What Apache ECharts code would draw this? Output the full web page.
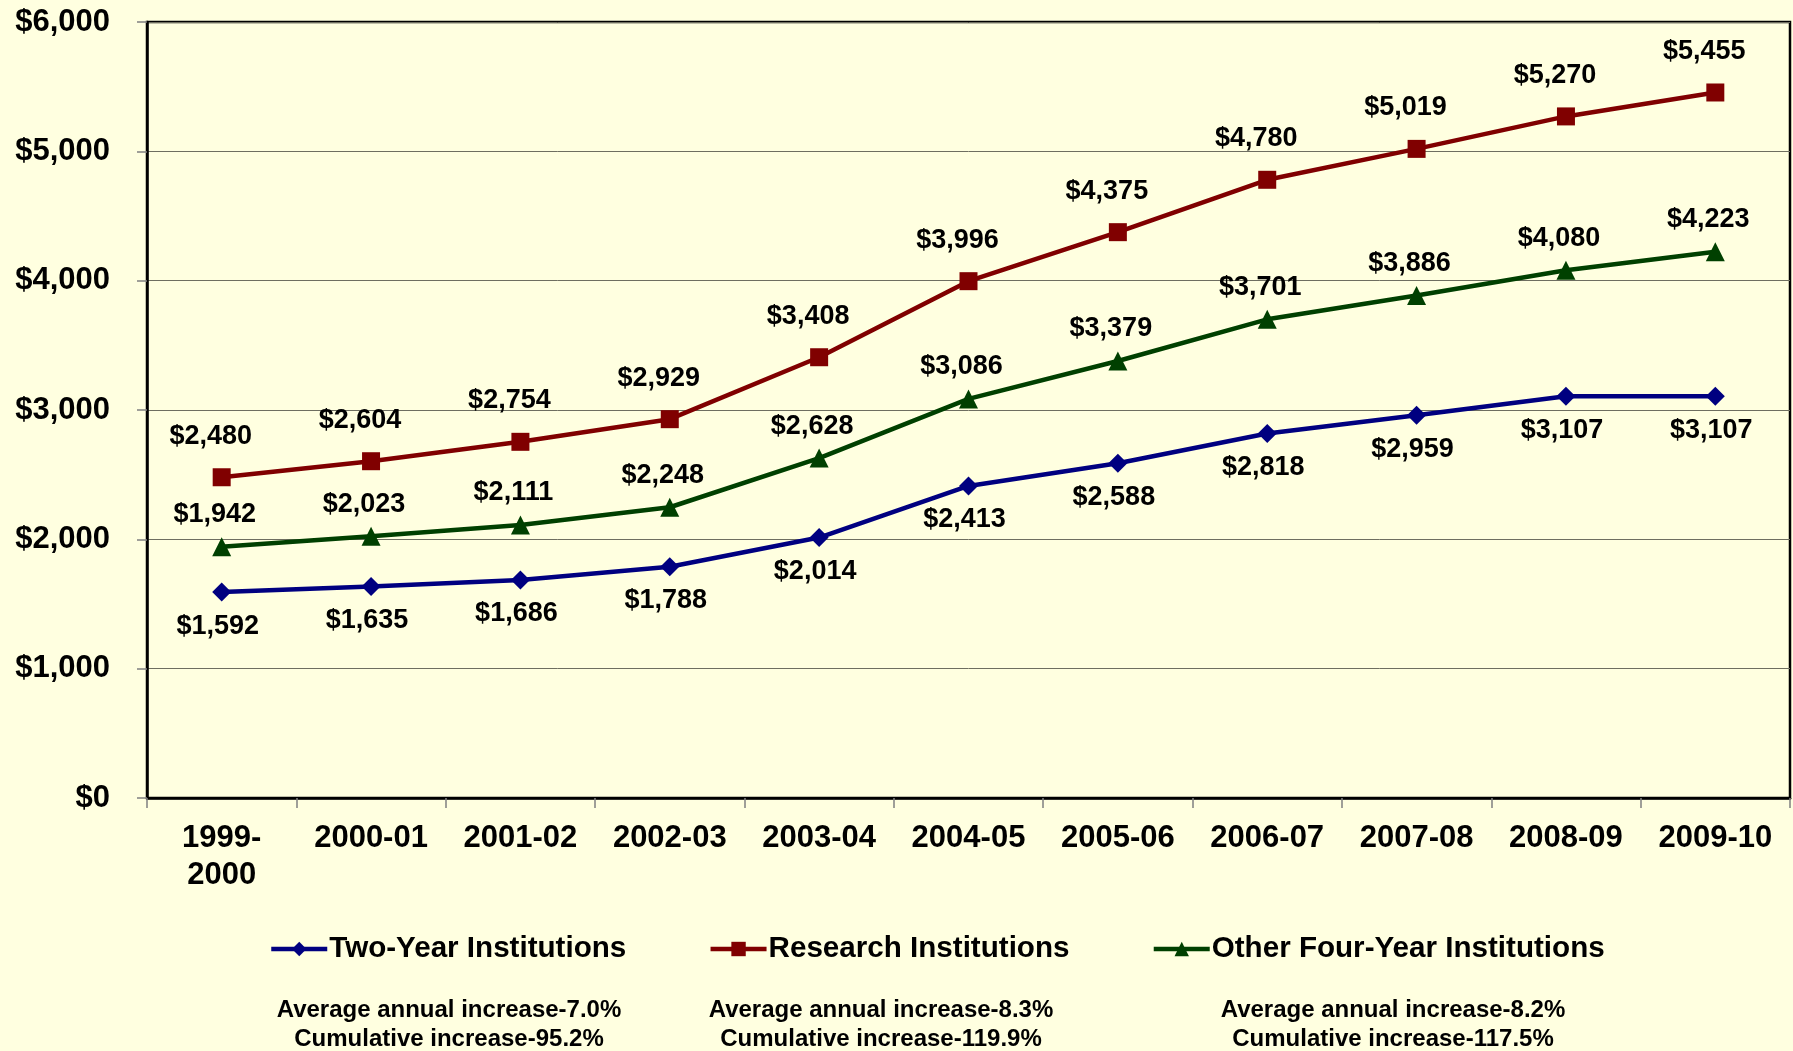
<!DOCTYPE html>
<html>
<head>
<meta charset="utf-8">
<script src="https://cdn.jsdelivr.net/npm/echarts@6/dist/echarts.min.js"></script>
<style>
html,body{margin:0;padding:0;background:#FFFFE0;}
#chart{width:1793px;height:1051px;}
</style>
</head>
<body>
<div id="chart"></div>
<script>
const categories = ['1999-\n2000','2000-01','2001-02','2002-03','2003-04','2004-05','2005-06','2006-07','2007-08','2008-09','2009-10'];
const twoYear = [1592,1635,1686,1788,2014,2413,2588,2818,2959,3107,3107];
const research = [2480,2604,2754,2929,3408,3996,4375,4780,5019,5270,5455];
const otherFour = [1942,2023,2111,2248,2628,3086,3379,3701,3886,4080,4223];
const seriesNames = ['Two-Year Institutions','Research Institutions','Other Four-Year Institutions'];
const yTicks = [0,1000,2000,3000,4000,5000,6000];
const notes = [
  ['Average annual increase-7.0%','Cumulative increase-95.2%'],
  ['Average annual increase-8.3%','Cumulative increase-119.9%'],
  ['Average annual increase-8.2%','Cumulative increase-117.5%']
];

const FONT = "'Liberation Sans', Arial, sans-serif";
const money = v => '$' + Number(v).toLocaleString('en-US');

const chart = echarts.init(document.getElementById('chart'), null, {renderer:'canvas'});

function mkSeries(name, data, color, symbol, size, offset) {
  return {
    name: name,
    type: 'line',
    data: data,
    symbol: symbol,
    symbolSize: size,
    lineStyle: {color: color, width: 4.5},
    itemStyle: {color: color},
    z: 3,
    label: {
      show: true,
      position: 'inside',
      offset: offset,
      formatter: p => money(p.value),
      fontFamily: FONT,
      fontWeight: 'bold',
      fontSize: 27,
      color: '#000'
    },
    emphasis: {disabled: true},
    animation: false
  };
}

const noteGraphics = [];
const noteX = [449, 881, 1393];
notes.forEach((pair, i) => {
  noteGraphics.push({
    type: 'text',
    x: noteX[i], y: 996,
    style: {
      text: pair.join('\n'),
      x: 0, y: 0,
      align: 'center',
      verticalAlign: 'top',
      font: "bold 24px 'Liberation Sans', Arial, sans-serif",
      lineHeight: 29,
      fill: '#000'
    }
  });
});

const option = {
  backgroundColor: '#FFFFE0',
  animation: false,
  grid: {
    left: 147, right: 3, top: 22, bottom: 253,
    show: true, borderColor: '#000', borderWidth: 2.5, backgroundColor: 'transparent'
  },
  legend: {
    data: seriesNames,
    left: 264, top: 929,
    itemWidth: 56, itemHeight: 18,
    itemGap: 82,
    lineStyle: {width: 4.5},
    textStyle: {fontFamily: FONT, fontWeight: 'bold', fontSize: 29.6, color: '#000', padding: [0,0,0,-3]},
    selectedMode: false
  },
  xAxis: {
    type: 'category',
    data: categories,
    boundaryGap: true,
    axisLine: {show: true, lineStyle: {color: '#000', width: 2.5}},
    axisTick: {show: true, alignWithLabel: false, length: 10, lineStyle: {color: '#808080', width: 1.5}},
    axisLabel: {
      interval: 0, margin: 22,
      fontFamily: FONT, fontWeight: 'bold', fontSize: 31, lineHeight: 37, color: '#000'
    },
    splitLine: {show: false}
  },
  yAxis: {
    type: 'value',
    min: yTicks[0], max: yTicks[yTicks.length-1], interval: 1000,
    axisLine: {show: true, lineStyle: {color: '#000', width: 2.5}},
    axisTick: {show: true, length: 10, lineStyle: {color: '#808080', width: 1.5}},
    axisLabel: {
      margin: 37, formatter: v => money(v),
      fontFamily: FONT, fontWeight: 'bold', fontSize: 31, color: '#000'
    },
    splitLine: {show: true, lineStyle: {color: '#6e6e60', width: 1}}
  },
  series: [
    mkSeries(seriesNames[0], twoYear, '#000080', 'diamond', 19, [-4, 34]),
    mkSeries(seriesNames[1], research, '#800000', 'rect', 18, [-11, -41]),
    mkSeries(seriesNames[2], otherFour, '#004000', 'triangle', 19, [-7, -32])
  ],
  graphic: noteGraphics
};
chart.setOption(option);
</script>
</body>
</html>
